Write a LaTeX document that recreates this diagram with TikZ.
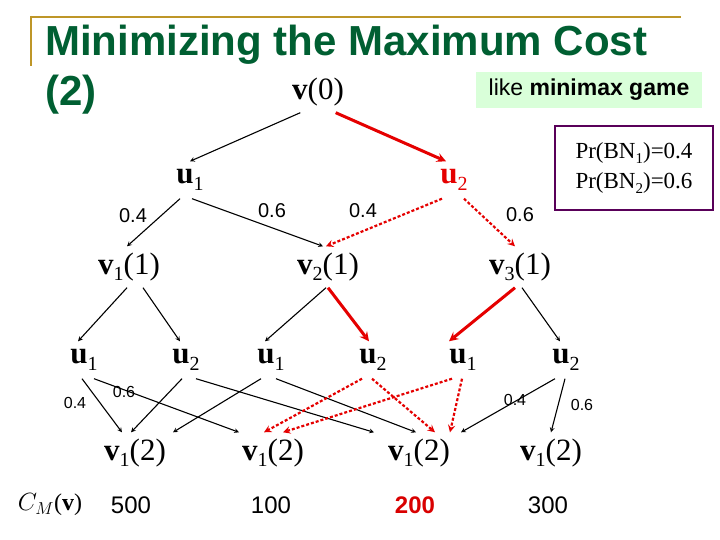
\documentclass[tikz,border=0pt]{standalone}
\usepackage{fontspec}
\setmainfont{Liberation Serif}
\setsansfont{Liberation Sans}
\newcommand{\lsub}[1]{\raisebox{-0.45ex}{\fontsize{20}{20}\selectfont #1}}
\newcommand{\psub}[1]{\raisebox{-0.45ex}{\fontsize{15}{15}\selectfont #1}}
\newcommand{\vl}[2]{\textbf{#1}\lsub{#2}}
\begin{document}
\begin{tikzpicture}[x=1pt,y=-1pt,
  ubox/.style={minimum width=67pt,minimum height=37pt,font=\fontsize{31}{31}\selectfont,inner sep=0pt},
  vbox/.style={minimum width=85pt,minimum height=41pt,font=\fontsize{31}{31}\selectfont,inner sep=0pt},
  bl/.style={-stealth,line width=1.1pt},
  rt/.style={-stealth,line width=3pt,red!90!black},
  rd/.style={-stealth,line width=2.2pt,red!90!black,dash pattern=on 3pt off 2pt},
  pl/.style={font=\sffamily\fontsize{20}{20}\selectfont},
  pls/.style={font=\sffamily\fontsize{16}{16}\selectfont}]
\useasboundingbox (0,0) rectangle (720,540);
\fill[white] (0,0) rectangle (720,540);
\definecolor{tgreen}{RGB}{0,95,50}
\definecolor{gold}{RGB}{190,150,40}
\draw[gold,line width=2pt] (30,17) -- (681,17);
\draw[gold,line width=2pt] (31,16) -- (31,66);
\node[anchor=base west,font=\sffamily\bfseries\fontsize{42}{42}\selectfont,text=tgreen,inner sep=0pt] (title) at (45,56) {Minimizing the Maximum Cost};
\node[anchor=base west,font=\sffamily\bfseries\fontsize{42}{42}\selectfont,text=tgreen,inner sep=0pt] (t2) at (45,106) {(2)};
\node[fill=green!15,minimum width=226pt,minimum height=36pt,font=\sffamily\fontsize{23}{23}\selectfont] (mm) at (589,90) {like \textbf{minimax game}};
\node[draw=violet!70!black,line width=1.5pt,minimum width=158pt,minimum height=84pt,align=left,font=\fontsize{23}{30}\selectfont] (pr) at (634,168) {Pr(BN\psub{1})=0.4\\Pr(BN\psub{2})=0.6};
\node[vbox,minimum width=79pt] (v0) at (318,92) {\textbf{v}(0)};
\node[ubox] (a1) at (190,180) {\vl{u}{1}};
\node[ubox,text=red!90!black] (a2) at (454,180) {\vl{u}{2}};
\node[vbox] (m1) at (129,267) {\vl{v}{1}(1)};
\node[vbox] (m2) at (328,267) {\vl{v}{2}(1)};
\node[vbox] (m3) at (520,267) {\vl{v}{3}(1)};
\node[ubox] (c1) at (84,360) {\vl{u}{1}};
\node[ubox] (c2) at (186,360) {\vl{u}{2}};
\node[ubox] (c3) at (271,360) {\vl{u}{1}};
\node[ubox] (c4) at (373,360) {\vl{u}{2}};
\node[ubox] (c5) at (463,360) {\vl{u}{1}};
\node[ubox] (c6) at (566,360) {\vl{u}{2}};
\node[vbox] (b1) at (135,453) {\vl{v}{1}(2)};
\node[vbox] (b2) at (273,453) {\vl{v}{1}(2)};
\node[vbox] (b3) at (419,453) {\vl{v}{1}(2)};
\node[vbox] (b4) at (551,453) {\vl{v}{1}(2)};
\node[font=\fontsize{24}{24}\selectfont] (cm) at (50,505) {$C_M$(\textbf{v})};
\node[font=\sffamily\fontsize{24}{24}\selectfont] (k1) at (131,505) {500};
\node[font=\sffamily\fontsize{24}{24}\selectfont] (k2) at (271,505) {100};
\node[font=\sffamily\bfseries\fontsize{24}{24}\selectfont,text=red!85!black] (k3) at (415,505) {200};
\node[font=\sffamily\fontsize{24}{24}\selectfont] (k4) at (548,505) {300};
% level 0-1
\draw[bl] ([xshift=22pt]v0.south west) -- (a1.north);
\draw[rt] ([xshift=-22pt]v0.south east) -- ([xshift=-8pt]a2.north);
% level 1-2
\draw[bl] ([xshift=-10pt]a1.south) -- ([xshift=-2pt]m1.north);
\draw[bl] ([xshift=2pt]a1.south) -- ([xshift=-5pt]m2.north);
\draw[rd] ([xshift=-12pt]a2.south) -- ([xshift=-2pt]m2.north);
\draw[rd] ([xshift=10pt]a2.south) -- ([xshift=-5pt]m3.north);
\node[pl] (p1) at (133,216) {0.4};
\node[pl] (p2) at (272,211) {0.6};
\node[pl] (p3) at (363,211) {0.4};
\node[pl] (p4) at (520,215) {0.6};
% level 2-3
\draw[bl] ([xshift=-2pt]m1.south) -- ([xshift=-6pt]c1.north);
\draw[bl] ([xshift=14pt]m1.south) -- ([xshift=-6pt]c2.north);
\draw[bl] ([xshift=-2pt]m2.south) -- ([xshift=-6pt]c3.north);
\draw[rt] ([xshift=0pt]m2.south) -- ([xshift=-4pt]c4.north);
\draw[rt] ([xshift=-5pt]m3.south) -- ([xshift=-14pt]c5.north);
\draw[bl] ([xshift=2pt]m3.south) -- ([xshift=-6pt]c6.north);
% level 3-4
\draw[bl] ([xshift=-2pt]c1.south) -- ([xshift=-13pt]b1.north);
\draw[bl] ([xshift=10pt]c1.south) -- ([xshift=-34pt]b2.north);
\draw[bl] ([xshift=-4pt]c2.south) -- ([xshift=-4pt]b1.north);
\draw[bl] ([xshift=10pt]c2.south) -- ([xshift=-45pt]b3.north);
\draw[bl] ([xshift=-10pt]c3.south) -- ([xshift=38pt]b1.north);
\draw[bl] ([xshift=5pt]c3.south) -- ([xshift=-3pt]b3.north);
\draw[rd] ([xshift=-11pt]c4.south) -- ([xshift=-9pt]b2.north);
\draw[rd] ([xshift=-1pt]c4.south) -- ([xshift=16pt]b3.north);
\draw[rd] ([xshift=-11pt]c5.south) -- ([xshift=10pt]b2.north);
\draw[rd] ([xshift=-1pt]c5.south) -- ([xshift=31pt]b3.north);
\draw[bl] ([xshift=-11pt]c6.south) -- ([xshift=42pt]b3.north);
\draw[bl] ([xshift=-1pt]c6.south) -- ([xshift=0pt]b4.north);
\node[pls] (q1) at (75,403) {0.4};
\node[pls] (q2) at (124,392) {0.6};
\node[pls] (q3) at (515,400) {0.4};
\node[pls] (q4) at (582,405) {0.6};
\end{tikzpicture}
\end{document}
